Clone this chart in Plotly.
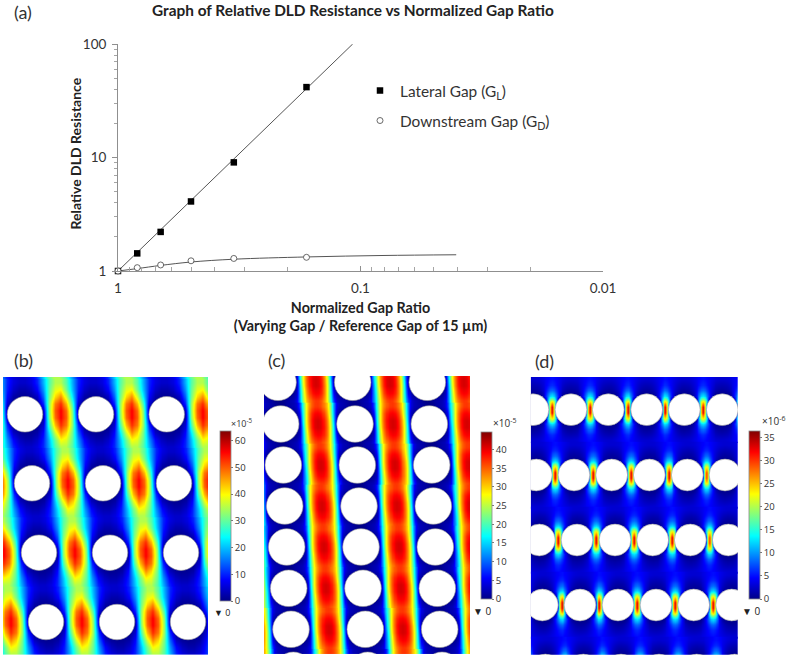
import numpy as np
import plotly.graph_objects as go

W, H = 787, 658
FONT = "Lato"

# ---------- panel (a) data ----------
gap_ratio = [1, 0.833, 0.667, 0.5, 0.333, 0.167]
lateral_res = [1, 1.43, 2.21, 4.1, 9.06, 41.7]
downstream_res = [1, 1.07, 1.13, 1.23, 1.29, 1.32]
lateral_fit_x = [1, 0.1077]
lateral_fit_y = [1, 100]
downstream_fit_x = [1, 0.833, 0.667, 0.5, 0.333, 0.167, 0.08, 0.0403]
downstream_fit_y = [1, 1.05, 1.12, 1.2, 1.27, 1.33, 1.37, 1.39]
x_tick_vals = [1, 0.1, 0.01]
x_tick_text = ["1", "0.1", "0.01"]
y_tick_vals = [1, 10, 100]
y_tick_text = ["1", "10", "100"]
x_minor = [0.9, 0.8, 0.7, 0.6, 0.5, 0.4, 0.3, 0.2, 0.09, 0.08, 0.07, 0.06, 0.05, 0.04, 0.03, 0.02]
y_minor = [2, 3, 4, 5, 6, 7, 8, 9, 20, 30, 40, 50, 60, 70, 80, 90]

# ---------- panel (b): one lattice cell, 10 rows x 12 cols ----------
cell_b = [
    [4.5, 6, 10, 19, 29, 35, 35, 29, 19, 10, 6, 4.5],
    [2.5, 4, 8, 17, 30, 38, 40, 31, 20, 9.5, 4.5, 2.5],
    [0.7, 1.5, 4, 14, 31, 42, 47, 37, 23, 8, 2.2, 1],
    [0, 0, 1, 10, 33, 48, 53, 44, 28, 5, 0.5, 0],
    [0, 0, 0, 4, 33, 50, 56, 49, 32, 2, 0, 0],
    [0, 0, 0, 2, 32, 49, 56, 50, 33, 4, 0, 0],
    [0, 0, 0.5, 5, 28, 44, 53, 48, 33, 10, 1, 0],
    [0.7, 1, 2.2, 8, 23, 37, 47, 42, 31, 14, 4, 1.5],
    [2.5, 2.5, 4.5, 9.5, 20, 31, 40, 38, 30, 17, 8, 4],
    [4.5, 4.5, 6, 10, 19, 29, 35, 35, 29, 19, 10, 6],
]
pillars_b_y = [414.3, 483.3, 552.7, 622.0]
pillars_b_x = [[25, 96, 166.7], [32, 103, 174], [39, 110, 181], [46, 117, 188]]
lattice_b_y = [345.0, 414.3, 483.3, 552.7, 622.0]
lattice_b_x = [18, 25, 32, 39, 46]

# ---------- panel (c): upper half of one lattice cell, across one full column period ----------
half_c = [
    [0, 0.3, 1.15, 1.65, 2.15, 3.25, 8, 18, 26.8, 32, 35.1, 36.65, 36.85, 35.9, 33.45, 29.2, 22, 12, 4.25, 2.35, 1.85, 1.35, 0.7, 0],
    [0, 0, 0, 0, 0.18, 1.36, 5.16, 16.8, 26.3, 33.3, 37.4, 39.1, 39.4, 38.6, 36.1, 30.7, 23.2, 12.8, 2.64, 0.82, 0, 0, 0, 0],
    [0, 0, 0, 0, 0, 0.12, 2.8, 15.7, 26.4, 33.3, 38.15, 40.5, 41, 40.35, 37.7, 32.6, 25.3, 13.8, 1.9, 0, 0, 0, 0, 0],
]
pillars_c_y = [382.3, 424.0, 465.0, 506.0, 547.0, 588.3, 629.3, 670.3]
pillars_c_x = [
    [278, 352.7, 427.3], [280.7, 355, 429.3], [283.3, 357.3, 431.7], [284.7, 359, 433.3],
    [286.7, 361, 435.3], [288.7, 363, 437.3], [291, 365.3, 439.7], [293.3, 367.7, 442],
]
lattice_c_y = pillars_c_y
lattice_c_x = [r[0] for r in pillars_c_x]

# ---------- panel (d): half of one lattice cell, gap centre to pillar centre ----------
half_d = [
    [5, 4.8, 4.5, 4.2, 3.8, 3.5, 3.2, 3, 2.9, 2.8, 2.8],
    [6, 5.7, 5, 4.3, 3.6, 3, 2.5, 2.1, 1.9, 1.8, 1.7],
    [8.5, 8, 6.5, 5, 3.5, 2.5, 1.8, 1.3, 1, 0.9, 0.8],
    [13, 12, 9, 6, 3.5, 1.5, 0.5, 0, 0, 0, 0],
    [24, 21, 12, 2, 0, 0, 0, 0, 0, 0, 0],
    [33, 24, 5, 0, 0, 0, 0, 0, 0, 0, 0],
]
pillars_d_y = [409.7, 475.0, 540.0, 605.0, 670.0]
pillars_d_x = [
    [533, 571, 608.3, 646.7, 684.3, 722.3],
    [536.3, 574, 611.7, 649.3, 687.3, 725],
    [539.3, 577, 615, 652.7, 690.3, 728.3],
    [542.3, 580, 618, 656, 693.7, 731.7],
    [545.3, 583.3, 621, 659, 696.7, 734.7],
]
lattice_d_y = pillars_d_y
lattice_d_x = [551.7, 555, 558, 561.3, 564.3]

cbar_b_ticks = [0, 10, 20, 30, 40, 50, 60]
cbar_c_ticks = [0, 5, 10, 15, 20, 25, 30, 35, 40]
cbar_d_ticks = [0, 5, 10, 15, 20, 25, 30, 35]

rainbow = [
    [0, "rgb(0,0,135)"], [0.125, "rgb(0,0,255)"], [0.375, "rgb(0,255,255)"],
    [0.625, "rgb(255,255,0)"], [0.875, "rgb(255,0,0)"], [1, "rgb(128,0,0)"],
]


def full_cell(half):
    """Mirror a read quarter cell into the whole cell (the pillars are symmetric)."""
    h = np.array(half, float)
    rows = np.vstack([h, h[::-1]])
    return np.hstack([rows, rows[:, -2:0:-1]])


def point_cell(half):
    """Complete a cell from its upper half: the lower half is the same, turned by 180 degrees."""
    h = np.array(half, float)
    lower = np.roll(h[::-1, ::-1], 1, axis=1)
    return np.vstack([h, lower])


cell_b_arr = np.array(cell_b, float)
cell_c_arr = point_cell(half_c)
cell_d_arr = full_cell(half_d)

fig = go.Figure()


def add_field(cell, lat_x, lat_y, px, py, axis_id, coloraxis):
    nr, nc = cell.shape
    dx = px / nc
    overlap = 1.5  # neighbouring lattice traces overlap slightly, so no seam shows
    dy = (py + overlap) / nr
    z = np.tile(cell, (1, int(np.ceil(420 / px))))
    for xr, yr in zip(lat_x, lat_y):
        fig.add_trace(go.Heatmap(
            z=z, x0=xr - 2 * px, dx=dx, y0=yr - (py + overlap) / 2 + dy / 2, dy=dy,
            coloraxis=coloraxis, zsmooth="best", xaxis="x" + axis_id, yaxis="y" + axis_id,
            hoverinfo="skip",
        ))


def add_pillars(ys, xs, size, axis_id):
    fig.add_trace(go.Scatter(
        x=[v for r in xs for v in r],
        y=[y for y, r in zip(ys, xs) for _ in r],
        mode="markers", showlegend=False, hoverinfo="skip",
        marker=dict(symbol="circle", size=size, color="white", line=dict(color="#9a9a9a", width=0.6)),
        xaxis="x" + axis_id, yaxis="y" + axis_id,
    ))


add_field(cell_b_arr, lattice_b_x, lattice_b_y, 71.0, 69.3, "2", "coloraxis")
add_pillars(pillars_b_y, pillars_b_x, 35.5, "2")
add_field(cell_c_arr, lattice_c_x, lattice_c_y, 74.3, 41.2, "3", "coloraxis2")
add_pillars(pillars_c_y, pillars_c_x, 36.6, "3")
add_field(cell_d_arr, lattice_d_x, lattice_d_y, 37.8, 65.0, "4", "coloraxis3")
add_pillars(pillars_d_y, pillars_d_x, 31.8, "4")

# panel (a)
line_col = "#555555"
fig.add_trace(go.Scatter(x=lateral_fit_x, y=lateral_fit_y, mode="lines", showlegend=False,
                         line=dict(color=line_col, width=1), hoverinfo="skip"))
fig.add_trace(go.Scatter(x=downstream_fit_x, y=downstream_fit_y, mode="lines", showlegend=False,
                         line=dict(color=line_col, width=1, shape="spline"), hoverinfo="skip"))
fig.add_trace(go.Scatter(x=gap_ratio, y=lateral_res, mode="markers", name="Lateral Gap (G<sub>L</sub>)",
                         legendgroup="l", cliponaxis=False,
                         marker=dict(symbol="square", size=6.5, color="black")))
fig.add_trace(go.Scatter(x=gap_ratio, y=downstream_res, mode="markers", name="Downstream Gap (G<sub>D</sub>)",
                         legendgroup="d", cliponaxis=False,
                         marker=dict(symbol="circle", size=6, color="white", line=dict(color="#444444", width=0.8))))


def hidden_axes(x0, x1, y0, y1, anchor_id):
    xa = dict(domain=[x0 / W, x1 / W], range=[x0, x1], visible=False, anchor="y" + anchor_id)
    ya = dict(domain=[1 - y1 / H, 1 - y0 / H], range=[y1, y0], visible=False, anchor="x" + anchor_id)
    return xa, ya


x2, y2 = hidden_axes(3, 208, 377, 655, "2")
x3, y3 = hidden_axes(264, 470, 376, 654, "3")
x4, y4 = hidden_axes(530.7, 738, 377, 655, "4")


def cax(cmax, ticks, x, y_top, y_bot):
    return dict(
        cmin=0, cmax=cmax, colorscale=rainbow,
        colorbar=dict(
            x=x / W, xanchor="left", xpad=0, ypad=0,
            y=1 - y_bot / H, yanchor="bottom", len=y_bot - y_top, lenmode="pixels",
            thickness=10.5, thicknessmode="pixels",
            tickmode="array", tickvals=ticks, ticktext=[str(t) for t in ticks],
            ticks="outside", ticklen=2, tickcolor="#777777", tickwidth=0.6,
            outlinecolor="#8a8a8a", outlinewidth=0.8, borderwidth=0,
            tickfont=dict(family="Open Sans", size=9.5, color="#333333"),
        ),
    )


grey = "#8f8f8f"
fig.update_layout(
    width=W, height=H, autosize=False,
    margin=dict(l=0, r=0, t=0, b=0, autoexpand=False), paper_bgcolor="white", plot_bgcolor="white",
    font=dict(family=FONT, color="#222222"),
    xaxis=dict(
        type="log", domain=[118 / W, 603 / W], range=[0, -2], anchor="y",
        showgrid=False, zeroline=False, showline=True, linecolor=grey, linewidth=1,
        tickmode="array", tickvals=x_tick_vals, ticktext=x_tick_text, ticklabelstandoff=5,
        ticks="inside", ticklen=5, tickcolor=grey, tickfont=dict(size=13.5, color="#333333"),
        minor=dict(tickmode="array", tickvals=x_minor, ticks="inside", ticklen=4, tickcolor="#a5a5a5", showgrid=False),
        title=dict(text="<b>Normalized Gap Ratio<br>(Varying Gap / Reference Gap of 15 µm)</b>",
                   font=dict(size=14.3), standoff=7),
    ),
    yaxis=dict(
        type="log", domain=[1 - 271 / H, 1 - 44 / H], range=[0, 2], anchor="x",
        showgrid=False, zeroline=False, showline=True, linecolor=grey, linewidth=1,
        tickmode="array", tickvals=y_tick_vals, ticktext=y_tick_text, ticklabelstandoff=3,
        ticks="outside", ticklen=5, tickcolor=grey, tickfont=dict(size=13.5, color="#333333"),
        minor=dict(tickmode="array", tickvals=y_minor, ticks="outside", ticklen=3, tickcolor="#a5a5a5", showgrid=False),
    ),
    xaxis2=x2, yaxis2=y2, xaxis3=x3, yaxis3=y3, xaxis4=x4, yaxis4=y4,
    coloraxis=cax(63.6, cbar_b_ticks, 220, 430.7, 601),
    coloraxis2=cax(44.7, cbar_c_ticks, 480.7, 432.3, 599),
    coloraxis3=cax(36.5, cbar_d_ticks, 749, 431, 599),
    legend=dict(x=360 / W, y=1 - 74 / H, xanchor="left", yanchor="top", tracegroupgap=7,
                bgcolor="rgba(0,0,0,0)", font=dict(size=15.4, color="#333333"), itemwidth=30),
)


def label(text, x, y, size=18, anchor="left", color="#333333", family=FONT, angle=0):
    fig.add_annotation(text=text, x=x / W, y=1 - y / H, xref="paper", yref="paper", showarrow=False,
                       xanchor=anchor, yanchor="middle", textangle=angle,
                       font=dict(size=size, color=color, family=family))


label("<b>Graph of Relative DLD Resistance vs Normalized Gap Ratio</b>", 353, 10, 15.4, "center", "#222222")
label("<b>Relative DLD Resistance</b>", 75, 153.5, 14, "center", "#222222", FONT, -90)
label("(a)", 12, 12)
label("(b)", 12, 360)
label("(c)", 266, 360)
label("(d)", 533, 361)
label("×10<sup>-5</sup>", 229, 423, 9, "left", "#333333", "Open Sans")
label("×10<sup>-5</sup>", 491, 423, 10, "left", "#333333", "Open Sans")
label("×10<sup>-6</sup>", 760, 421, 10, "left", "#333333", "Open Sans")
label("▼ 0", 212, 612, 9, "left", "#222222", "Open Sans")
label("▼ 0", 471, 611, 10, "left", "#222222", "Open Sans")
label("▼ 0", 740, 611, 10, "left", "#222222", "Open Sans")

fig.write_html("out.html", config=dict(displayModeBar=False), post_script="document.body.style.margin='0';")
